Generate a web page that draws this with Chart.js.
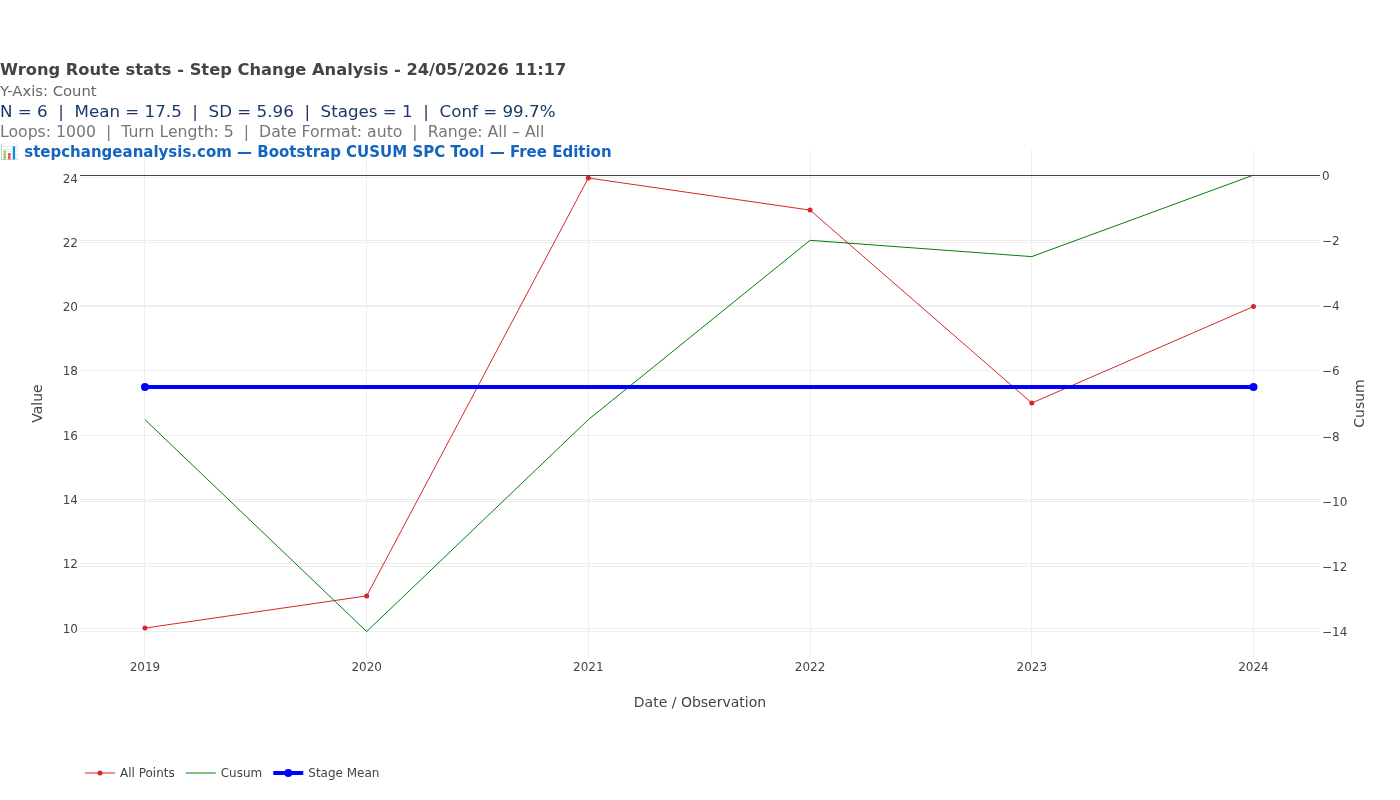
<!DOCTYPE html>
<html>
<head>
<meta charset="utf-8">
<script src="https://cdn.jsdelivr.net/npm/chart.js@4.4.1/dist/chart.umd.min.js"></script>
<style>
  html, body { margin: 0; padding: 0; background: #fff; }
  #chart { display: block; }
</style>
</head>
<body>
<canvas id="chart" width="1400" height="800"></canvas>
<script>
// values
const years = [2019, 2020, 2021, 2022, 2023, 2024];
const allPoints = [10, 11, 24, 23, 17, 20];
const cusum = [-7.5, -14, -7.5, -2, -2.5, 0];
const stageYears = [2019, 2024];
const stageMean = [17.5, 17.5];

const yearTicks = [2019, 2020, 2021, 2022, 2023, 2024];
const valueTicks = [10, 12, 14, 16, 18, 20, 22, 24];
const cusumTicks = [-14, -12, -10, -8, -6, -4, -2, 0];

const headerLines = [
    'Wrong Route stats - Step Change Analysis - 24/05/2026 11:17',
    'Y-Axis: Count',
    'N = 6  |  Mean = 17.5  |  SD = 5.96  |  Stages = 1  |  Conf = 99.7%',
    'Loops: 1000  |  Turn Length: 5  |  Date Format: auto  |  Range: All \u2013 All',
    '\uD83D\uDCCA stepchangeanalysis.com \u2014 Bootstrap CUSUM SPC Tool \u2014 Free Edition'
];

const FONT = '"DejaVu Sans", verdana, arial, sans-serif';

const pairs = (xs, ys) => xs.map((x, i) => ({ x: x, y: ys[i] }));
const fixTicks = (list) => (scale) => { scale.ticks = list.map(v => ({ value: v })); };
const minus = (v) => String(v).replace('-', '\u2212');

// header text block + right axis title + legend, drawn like plotly does
const overlayPlugin = {
    id: 'overlay',
    afterDraw(chart) {
        const ctx = chart.ctx;
        ctx.save();
        ctx.textBaseline = 'middle';
        ctx.textAlign = 'left';

        const styles = [
            { font: 'bold 16.3px ' + FONT, color: '#444', y: 70.5 },
            { font: '14.8px ' + FONT, color: '#666', y: 92 },
            { font: '16.7px ' + FONT, color: '#1a3a6b', y: 112.5 },
            { font: '15.7px ' + FONT, color: '#777', y: 132.5 },
            { font: 'bold 15px ' + FONT, color: '#1565c0', y: 153 }
        ];
        headerLines.forEach((txt, i) => {
            ctx.font = styles[i].font;
            ctx.fillStyle = styles[i].color;
            ctx.fillText(txt, 0, styles[i].y);
        });

        // right axis title, reads bottom to top
        const area = chart.chartArea;
        ctx.save();
        ctx.translate(1360, (area.top + area.bottom) / 2);
        ctx.rotate(-Math.PI / 2);
        ctx.textAlign = 'center';
        ctx.font = '14px ' + FONT;
        ctx.fillStyle = '#444';
        ctx.fillText('Cusum', 0, 0);
        ctx.restore();

        // legend
        let x = 85;
        const ly = 773;
        ctx.font = '12px ' + FONT;
        chart.data.datasets.forEach((ds) => {
            ctx.strokeStyle = ds.borderColor;
            ctx.lineWidth = ds.borderWidth;
            ctx.beginPath();
            ctx.moveTo(x, ly);
            ctx.lineTo(x + 30, ly);
            ctx.stroke();
            if (ds.pointRadius > 0) {
                ctx.fillStyle = ds.pointBackgroundColor;
                ctx.beginPath();
                ctx.arc(x + 15, ly, ds.pointRadius, 0, Math.PI * 2);
                ctx.fill();
            }
            ctx.fillStyle = '#444';
            ctx.fillText(ds.label, x + 35, ly + 0.5);
            x += 35 + ctx.measureText(ds.label).width + 11;
        });
        ctx.restore();
    }
};

const gridColor = '#eeeeee';

new Chart(document.getElementById('chart'), {
    type: 'line',
    data: {
        datasets: [
            {
                label: 'All Points',
                data: pairs(years, allPoints),
                borderColor: '#d62728',
                backgroundColor: '#d62728',
                pointBackgroundColor: '#d62728',
                pointBorderWidth: 0,
                pointRadius: 2.5,
                borderWidth: 1,
                yAxisID: 'y',
                order: 3
            },
            {
                label: 'Cusum',
                data: pairs(years, cusum),
                borderColor: '#008000',
                backgroundColor: '#008000',
                pointRadius: 0,
                borderWidth: 1,
                yAxisID: 'y1',
                order: 2
            },
            {
                label: 'Stage Mean',
                data: pairs(stageYears, stageMean),
                borderColor: '#0000ff',
                backgroundColor: '#0000ff',
                pointBackgroundColor: '#0000ff',
                pointBorderWidth: 0,
                pointRadius: 4,
                borderWidth: 4,
                yAxisID: 'y',
                order: 1
            }
        ]
    },
    options: {
        responsive: false,
        animation: false,
        events: [],
        layout: { padding: { top: 150, bottom: 88, left: 0, right: 0 } },
        plugins: {
            legend: { display: false },
            title: { display: false },
            tooltip: { enabled: false }
        },
        scales: {
            x: {
                type: 'linear',
                min: 2018.707,
                max: 2024.3,
                afterBuildTicks: fixTicks(yearTicks),
                afterFit: (scale) => { scale.height = 55; },
                grid: { color: gridColor, drawTicks: false },
                border: { display: false },
                ticks: {
                    padding: 4,
                    color: '#444',
                    font: { family: FONT, size: 12 },
                    callback: (v) => String(v)
                },
                title: {
                    display: true,
                    text: 'Date / Observation',
                    color: '#444',
                    font: { family: FONT, size: 14 },
                    padding: 0
                }
            },
            y: {
                position: 'left',
                min: 9.1,
                max: 24.87,
                afterBuildTicks: fixTicks(valueTicks),
                afterFit: (scale) => { scale.width = 80; },
                grid: { color: gridColor, drawTicks: false },
                border: { display: false },
                ticks: {
                    padding: 2,
                    labelOffset: 1.5,
                    color: '#444',
                    font: { family: FONT, size: 12 },
                    callback: (v) => minus(v)
                },
                title: {
                    display: true,
                    text: 'Value',
                    color: '#444',
                    font: { family: FONT, size: 14 },
                    padding: { top: 29.6, bottom: 0 }
                }
            },
            y1: {
                position: 'right',
                min: -14.78,
                max: 0.77,
                afterBuildTicks: fixTicks(cusumTicks),
                afterFit: (scale) => { scale.width = 80; },
                grid: {
                    drawTicks: false,
                    color: (c) => (c.tick && c.tick.value === 0 ? '#444' : gridColor)
                },
                border: { display: false },
                ticks: {
                    padding: 2,
                    labelOffset: 1.5,
                    color: '#444',
                    font: { family: FONT, size: 12 },
                    callback: (v) => minus(v)
                }
            }
        }
    },
    plugins: [overlayPlugin]
});
</script>
</body>
</html>
